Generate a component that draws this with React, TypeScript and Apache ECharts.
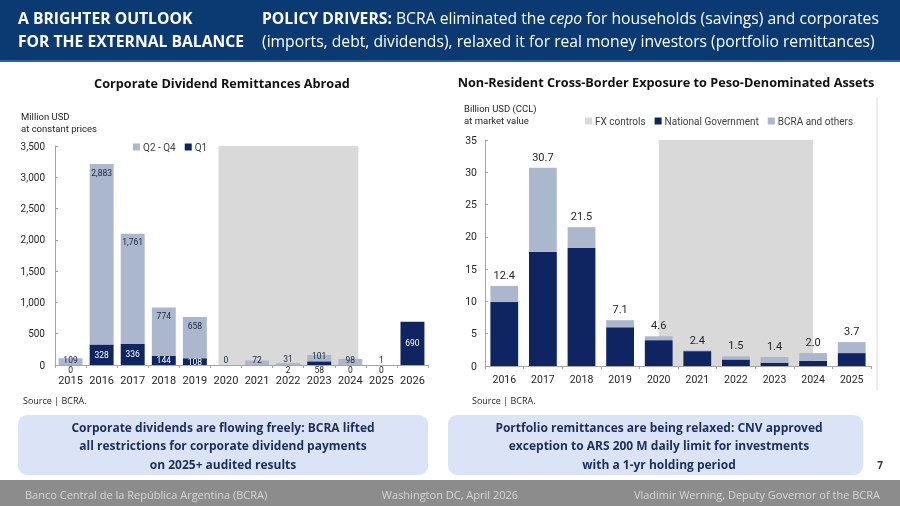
import React, { useEffect, useRef } from 'react';
import * as echarts from 'echarts';

// ---------- Data ----------
const divYears = ['2015', '2016', '2017', '2018', '2019', '2020', '2021', '2022', '2023', '2024', '2025', '2026'];
const divQ1 = [0, 328, 336, 144, 108, null, null, 2, 58, 0, 0, 690];
const divQ2Q4 = [109, 2883, 1761, 774, 658, 0, 72, 31, 101, 98, 1, null];
const divYMax = 3500;
const divYInterval = 500;

const nrYears = ['2016', '2017', '2018', '2019', '2020', '2021', '2022', '2023', '2024', '2025'];
const nrNationalGov = [9.9, 17.7, 18.3, 6.0, 4.0, 2.3, 1.0, 0.5, 0.8, 2.0];
const nrBcraOthers = [2.5, 13.0, 3.2, 1.1, 0.6, 0.1, 0.5, 0.9, 1.2, 1.7];
const nrTotals = [12.4, 30.7, 21.5, 7.1, 4.6, 2.4, 1.5, 1.4, 2.0, 3.7];
const nrYMax = 35;
const nrYInterval = 5;

const fxControlsYears = ['2020', '2024'];

// ---------- Styles ----------
const NAVY = '#0e2562';
const LIGHT = '#abb7cd';
const FXGRAY = '#d9d9d9';
const AXIS = '#a6a6a6';
const TXT = '#262626';
const UI = '"Open Sans", "Noto Sans", sans-serif';
const CH = 'Roboto, "Liberation Sans", sans-serif';

export default function App() {
  const ref = useRef<HTMLDivElement>(null);

  useEffect(() => {
    if (!ref.current) return;
    const chart = echarts.init(ref.current, undefined, { renderer: 'svg' });

    const q1Data = divQ1.map((v) =>
      v === null
        ? null
        : v < 100
        ? { value: v, label: { position: 'bottom', distance: 0, color: TXT } }
        : { value: v }
    );
    const q2Data = divQ2Q4.map((v) =>
      v === null
        ? null
        : v >= 300
        ? { value: v, label: { position: 'insideTop', distance: 4 } }
        : { value: v, label: { position: 'insideBottom', distance: 1 } }
    );

    // band positions on hidden value axes (band i spans [i, i+1])
    const divFxStart = divYears.indexOf(fxControlsYears[0]) + 0.26;
    const divFxEnd = divYears.indexOf(fxControlsYears[1]) + 0.76;
    const nrFxStart = nrYears.indexOf(fxControlsYears[0]) + 0.5;
    const nrFxEnd = nrYears.indexOf(fxControlsYears[1]) + 0.5;

    const legendText = { fontSize: 10, color: '#404040', fontFamily: CH, padding: [0, 0, 0, -2] };

    const option: any = {
      animation: false,
      textStyle: { fontFamily: CH },
      grid: [
        { left: 55, right: 472, top: 146, bottom: 141, containLabel: false },
        { left: 485, right: 29, top: 140, bottom: 140, containLabel: false },
      ],
      legend: [
        {
          data: ['Q2 - Q4', 'Q1'],
          left: 128,
          top: 137,
          itemWidth: 7,
          itemHeight: 7,
          itemGap: 9,
          icon: 'rect',
          textStyle: legendText,
          selectedMode: false,
        },
        {
          data: ['FX controls', 'National Government', 'BCRA and others'],
          left: 580,
          top: 111,
          itemWidth: 7,
          itemHeight: 7,
          itemGap: 9,
          icon: 'rect',
          textStyle: legendText,
          selectedMode: false,
        },
      ],
      xAxis: [
        {
          type: 'category',
          gridIndex: 0,
          data: divYears,
          axisLine: { lineStyle: { color: AXIS } },
          axisTick: { show: true, length: 3, lineStyle: { color: AXIS } },
          axisLabel: { fontSize: 11, color: TXT, margin: 10, interval: 0 },
        },
        {
          type: 'category',
          gridIndex: 1,
          data: nrYears,
          axisLine: { lineStyle: { color: AXIS } },
          axisTick: { show: true, length: 3, lineStyle: { color: AXIS } },
          axisLabel: { fontSize: 10.5, color: TXT, margin: 8, interval: 0 },
        },
        { type: 'value', gridIndex: 0, min: 0, max: divYears.length, show: false },
        { type: 'value', gridIndex: 1, min: 0, max: nrYears.length, show: false },
      ],
      yAxis: [
        {
          type: 'value',
          gridIndex: 0,
          min: 0,
          max: divYMax,
          interval: divYInterval,
          axisLine: { show: true, lineStyle: { color: AXIS } },
          axisTick: { show: true, inside: true, length: 3, lineStyle: { color: AXIS } },
          splitLine: { show: false },
          axisLabel: {
            fontSize: 10,
            color: TXT,
            margin: 10,
            formatter: (v: number) => v.toLocaleString('en-US'),
          },
        },
        {
          type: 'value',
          gridIndex: 1,
          min: 0,
          max: nrYMax,
          interval: nrYInterval,
          axisLine: { show: true, lineStyle: { color: AXIS } },
          axisTick: { show: true, inside: true, length: 3, lineStyle: { color: AXIS } },
          splitLine: { show: false },
          axisLabel: { fontSize: 10.5, color: TXT, margin: 8 },
        },
      ],
      series: [
        {
          name: 'FX controls (dividends)',
          type: 'line',
          xAxisIndex: 2,
          yAxisIndex: 0,
          data: [],
          markArea: {
            silent: true,
            itemStyle: { color: FXGRAY },
            data: [[{ xAxis: divFxStart, yAxis: divYMax }, { xAxis: divFxEnd, yAxis: 0 }]],
          },
        },
        {
          name: 'Q1',
          type: 'bar',
          xAxisIndex: 0,
          yAxisIndex: 0,
          stack: 'div',
          barWidth: '77%',
          data: q1Data,
          itemStyle: { color: NAVY },
          label: { show: true, position: 'inside', color: '#fff', fontSize: 8.5 },
        },
        {
          name: 'Q2 - Q4',
          type: 'bar',
          xAxisIndex: 0,
          yAxisIndex: 0,
          stack: 'div',
          barWidth: '77%',
          data: q2Data,
          itemStyle: { color: LIGHT },
          label: {
            show: true,
            color: '#1c2440',
            fontSize: 8.5,
            formatter: (p: any) => Number(p.value).toLocaleString('en-US'),
          },
        },
        {
          name: 'FX controls',
          type: 'line',
          xAxisIndex: 3,
          yAxisIndex: 1,
          data: [],
          itemStyle: { color: FXGRAY },
          lineStyle: { color: FXGRAY },
          markArea: {
            silent: true,
            itemStyle: { color: FXGRAY },
            data: [[{ xAxis: nrFxStart, yAxis: nrYMax }, { xAxis: nrFxEnd, yAxis: 0 }]],
          },
        },
        {
          name: 'National Government',
          type: 'bar',
          xAxisIndex: 1,
          yAxisIndex: 1,
          stack: 'nr',
          barWidth: '72%',
          data: nrNationalGov,
          itemStyle: { color: NAVY },
        },
        {
          name: 'BCRA and others',
          type: 'bar',
          xAxisIndex: 1,
          yAxisIndex: 1,
          stack: 'nr',
          barWidth: '72%',
          data: nrBcraOthers,
          itemStyle: { color: LIGHT },
          label: {
            show: true,
            position: 'top',
            distance: 5,
            color: TXT,
            fontSize: 11,
            formatter: (p: any) => nrTotals[p.dataIndex].toFixed(1),
          },
        },
      ],
      graphic: [
        // header
        { type: 'rect', shape: { x: 0, y: 0, width: 900, height: 61 }, style: { fill: '#0b3a72' } },
        { type: 'line', shape: { x1: 0, y1: 61, x2: 900, y2: 61 }, style: { stroke: '#35609a', lineWidth: 2 } },
        {
          type: 'text',
          style: {
            x: 18,
            y: 29,
            text: 'A BRIGHTER OUTLOOK\nFOR THE EXTERNAL BALANCE',
            fill: '#fff',
            font: `bold 15.7px ${UI}`,
            lineHeight: 23,
            verticalAlign: 'middle',
          },
        },
        {
          type: 'text',
          style: {
            x: 262,
            y: 29,
            text:
              '{b|POLICY DRIVERS:} BCRA eliminated the {i|cepo} for households (savings) and corporates\n(imports, debt, dividends), relaxed it for real money investors (portfolio remittances)',
            fill: '#fff',
            font: `15.7px ${UI}`,
            lineHeight: 23,
            verticalAlign: 'middle',
            rich: {
              b: { fontWeight: 'bold', fill: '#fff', fontSize: 15.7, fontFamily: UI, lineHeight: 23 },
              i: { fontStyle: 'italic', fill: '#fff', fontSize: 15.7, fontFamily: UI, lineHeight: 23 },
            },
          },
        },
        // chart titles
        {
          type: 'text',
          style: {
            x: 222,
            y: 83,
            text: 'Corporate Dividend Remittances Abroad',
            fill: '#111',
            font: `bold 12.7px ${UI}`,
            align: 'center',
            verticalAlign: 'middle',
          },
        },
        {
          type: 'text',
          style: {
            x: 666,
            y: 82,
            text: 'Non-Resident Cross-Border Exposure to Peso-Denominated Assets',
            fill: '#111',
            font: `bold 12.7px ${UI}`,
            align: 'center',
            verticalAlign: 'middle',
          },
        },
        // axis units
        {
          type: 'text',
          style: {
            x: 21,
            y: 122,
            text: 'Million USD\nat constant prices',
            fill: TXT,
            font: `9.5px ${CH}`,
            lineHeight: 12,
            verticalAlign: 'middle',
          },
        },
        {
          type: 'text',
          style: {
            x: 464,
            y: 114,
            text: 'Billion USD (CCL)\nat market value',
            fill: TXT,
            font: `9.5px ${CH}`,
            lineHeight: 12,
            verticalAlign: 'middle',
          },
        },
        // sources
        {
          type: 'text',
          style: { x: 23, y: 400, text: 'Source | BCRA.', fill: TXT, font: `9px ${UI}`, verticalAlign: 'middle' },
        },
        {
          type: 'text',
          style: { x: 472, y: 400, text: 'Source | BCRA.', fill: TXT, font: `9px ${UI}`, verticalAlign: 'middle' },
        },
        // right chart frame edge
        { type: 'line', shape: { x1: 877, y1: 97, x2: 877, y2: 390 }, style: { stroke: '#dcdcdc', lineWidth: 1 } },
        // message boxes
        { type: 'rect', shape: { x: 18, y: 415, width: 410, height: 60, r: 9 }, style: { fill: '#dbe4f6' } },
        { type: 'rect', shape: { x: 448, y: 415, width: 415, height: 60, r: 9 }, style: { fill: '#dbe4f6' } },
        {
          type: 'text',
          style: {
            x: 223,
            y: 445.5,
            text:
              'Corporate dividends are flowing freely: BCRA lifted\nall restrictions for corporate dividend payments\non 2025+ audited results',
            fill: '#1b2d5c',
            font: `bold 12px ${UI}`,
            lineHeight: 18.5,
            align: 'center',
            verticalAlign: 'middle',
          },
        },
        {
          type: 'text',
          style: {
            x: 659,
            y: 445.5,
            text:
              'Portfolio remittances are being relaxed: CNV approved\nexception to ARS 200 M daily limit for investments\nwith a 1-yr holding period',
            fill: '#1b2d5c',
            font: `bold 12px ${UI}`,
            lineHeight: 18.5,
            align: 'center',
            verticalAlign: 'middle',
          },
        },
        {
          type: 'text',
          style: { x: 880, y: 465, text: '7', fill: '#333', font: `bold 10px ${UI}`, align: 'center', verticalAlign: 'middle' },
        },
        // footer
        { type: 'rect', shape: { x: 0, y: 480, width: 900, height: 26 }, style: { fill: '#8c8c8c' } },
        {
          type: 'text',
          style: {
            x: 25,
            y: 494,
            text: 'Banco Central de la República Argentina (BCRA)',
            fill: '#d6d6d6',
            font: `11px ${UI}`,
            verticalAlign: 'middle',
          },
        },
        {
          type: 'text',
          style: {
            x: 450,
            y: 494,
            text: 'Washington DC, April 2026',
            fill: '#d6d6d6',
            font: `11px ${UI}`,
            align: 'center',
            verticalAlign: 'middle',
          },
        },
        {
          type: 'text',
          style: {
            x: 880,
            y: 494,
            text: 'Vladimir Werning, Deputy Governor of the BCRA',
            fill: '#d6d6d6',
            font: `11px ${UI}`,
            align: 'right',
            verticalAlign: 'middle',
          },
        },
      ],
    };

    chart.setOption(option);
    return () => chart.dispose();
  }, []);

  return <div ref={ref} style={{ position: 'fixed', left: 0, top: 0, width: 900, height: 506 }} />;
}
